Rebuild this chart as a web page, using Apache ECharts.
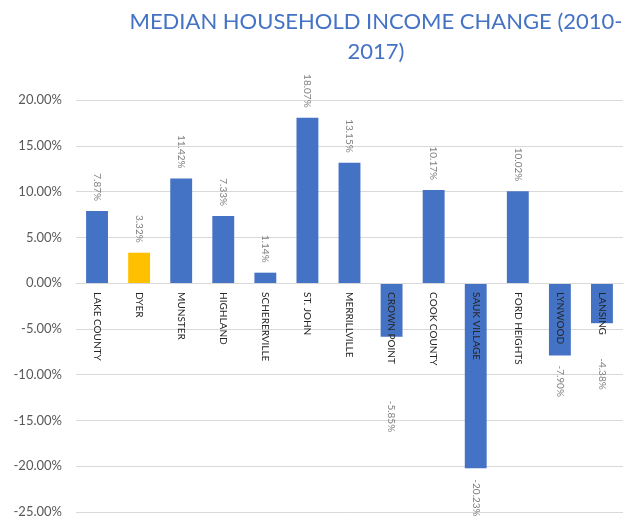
<!DOCTYPE html>
<html><head><meta charset="utf-8">
<script src="https://cdn.jsdelivr.net/npm/echarts@6/dist/echarts.min.js"></script>
<style>html,body{margin:0;padding:0;background:#fff}#c{width:625px;height:521px}</style>
</head><body><div id="c"></div>
<script>
const categories = ['LAKE COUNTY','DYER','MUNSTER','HIGHLAND','SCHERERVILLE','ST. JOHN','MERRILLVILLE','CROWN POINT','COOK COUNTY','SAUK VILLAGE','FORD HEIGHTS','LYNWOOD','LANSING'];
const changePct = [7.87, 3.32, 11.42, 7.33, 1.14, 18.07, 13.15, -5.85, 10.17, -20.23, 10.02, -7.90, -4.38];
const highlight = 'DYER';
const yTicks = {min: -25, max: 20, interval: 5};

// label gaps for negative bars (Excel pushes them below category labels)
const negGap = {'CROWN POINT': 64, 'SAUK VILLAGE': 11, 'LYNWOOD': 10, 'LANSING': 35};

const W = 625, H = 521;
const gridTop = 100, gridBottom = 9;
const gridH = H - gridTop - gridBottom;
const zeroOffset = -gridH * (0 - yTicks.min) / (yTicks.max - yTicks.min);

const data = changePct.map((v, i) => {
  const c = categories[i];
  const item = {value: v, itemStyle: {color: c === highlight ? '#FFC000' : '#4472C4'}};
  if (v >= 0) {
    item.label = {position: 'top', distance: 10, align: 'right', verticalAlign: 'middle'};
  } else {
    item.label = {position: 'bottom', distance: negGap[c] || 10, align: 'left', verticalAlign: 'middle'};
  }
  return item;
});

const chart = echarts.init(document.getElementById('c'), null, {renderer: 'canvas'});
chart.setOption({
  animation: false,
  textStyle: {fontFamily: 'Lato'},
  title: {
    text: 'MEDIAN HOUSEHOLD INCOME CHANGE (2010-\n2017)',
    left: 371, top: 2, textAlign: 'center',
    textStyle: {color: '#4472C4', fontSize: 22, fontWeight: 'normal', fontFamily: 'Lato', lineHeight: 30}
  },
  grid: {left: 76, right: 2, top: gridTop, bottom: gridBottom, containLabel: false, outerBoundsMode: 'none'},
  xAxis: {
    type: 'category', data: categories, z: 10, offset: zeroOffset,
    axisLine: {show: true, onZero: false, lineStyle: {color: '#d9d9d9', width: 1}},
    axisTick: {show: false},
    axisLabel: {rotate: -90, interval: 0, color: '#262626', fontSize: 10, margin: 9, fontFamily: 'Lato'}
  },
  yAxis: {
    type: 'value', min: yTicks.min, max: yTicks.max, interval: yTicks.interval,
    axisLine: {show: false}, axisTick: {show: false},
    splitLine: {lineStyle: {color: '#d9d9d9', width: 1}},
    axisLabel: {color: '#595959', fontSize: 13, margin: 14, fontFamily: 'Lato', formatter: v => v.toFixed(2) + '%'}
  },
  series: [{
    type: 'bar', data: data, barWidth: '52%',
    label: {show: true, rotate: -90, color: '#7f7f7f', fontSize: 10, fontFamily: 'Lato', formatter: p => p.value.toFixed(2) + '%'}
  }]
});
</script></body></html>
